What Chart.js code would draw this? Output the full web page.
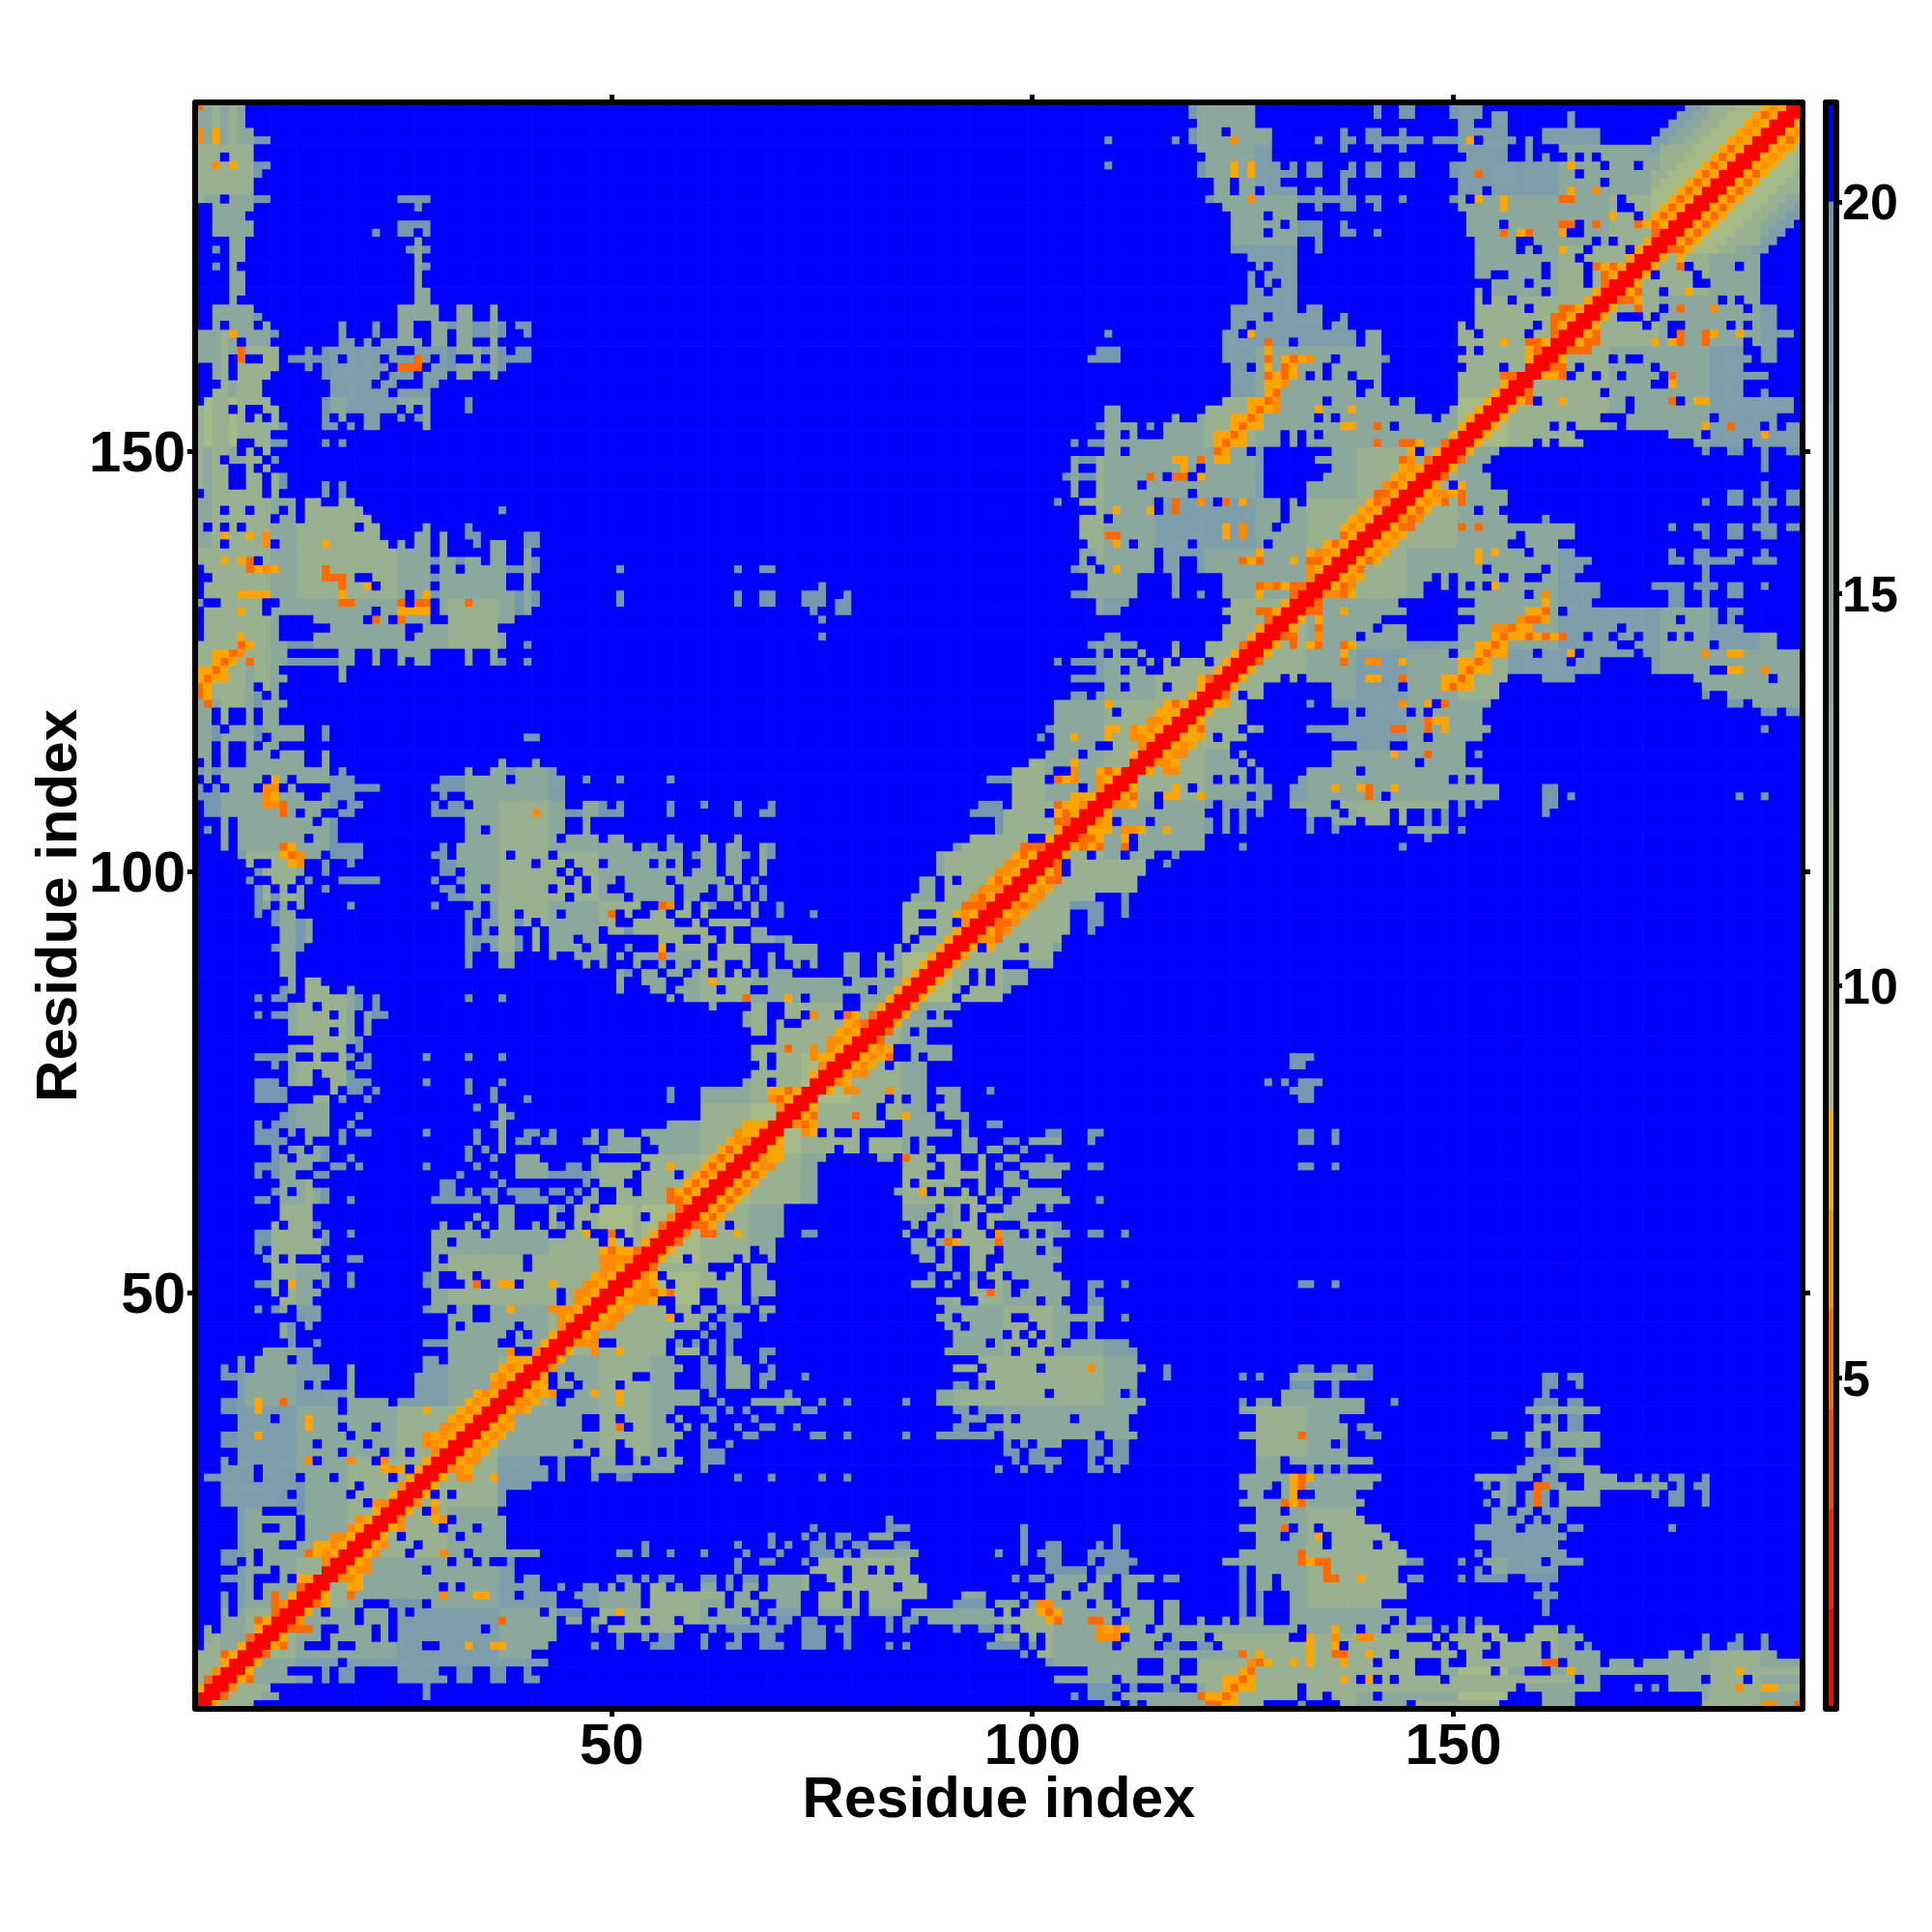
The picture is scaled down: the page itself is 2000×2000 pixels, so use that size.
<!DOCTYPE html>
<html>
<head>
<meta charset="utf-8">
<title>Residue contact map</title>
<script src="https://cdn.jsdelivr.net/npm/chart.js@4/dist/chart.umd.min.js"></script>
<style>
  html, body { margin: 0; padding: 0; background: #fff; }
  #wrap { position: relative; width: 2000px; height: 2000px; }
  #map { position: absolute; left: 0; top: 0; }
  #bar { position: absolute; left: 1860px; top: 0; }
</style>
</head>
<body>
<div id="wrap">
  <canvas id="map" width="2000" height="2000"></canvas>
  <canvas id="bar" width="140" height="2000"></canvas>
</div>
<script>
const residueCount = 191;
const axisTicks = [50, 100, 150];
const axisTitle = 'Residue index';
const colorbarTicks = [5, 10, 15, 20];

// colour key: band edges and one colour per band
const bandEdges = [0.78, 2.05, 3.33, 4.6, 5.88, 7.15, 8.43, 9.71, 11, 12.28, 13.57, 14.85, 16.14, 17.42, 18.71, 20, 21.27];
const bandColors = ['#ff0000', '#ff2400', '#ff4800', '#ff6a00', '#ff8c00', '#ffa500',
  '#a5ba86', '#9fb68b', '#99b190', '#93ad96', '#8ca89c', '#85a3a3', '#7d9eaa', '#7598b1', '#6c92b8', '#0000ff'];

// letters used in contactRows and the distance each one stands for
const levelCodes = ['z', 'e', 'd', 'f', 'c', 'b', 'a', 'y', 'O', 'o', 'x', 'r'];
const levelValues = [20.6, 19.3, 18, 16.8, 13.9, 11.5, 9, 7.8, 6.5, 5.2, 4, 1.5];

// upper half of the symmetric map, one row per residue.
// "12c" = from column 12 on the level is c, until the next entry
const contactRows = [
"1r3y4b8z109d111z112d113z114c121o123y125c128z132d133z137c145z146b156z161c165z180b187O189c191o",
"2r4o5b9c11z28d29z105d106z107d110z111c120o121y123o124y125b132z133c135z136c141z142c157z161c165z180c",
"2r5O6b10z28d29z107d111z112d113z116d118z120c123y124o125y127b132z133b158z159c168z172d173z174d175z176c184O185b187y189b",
"3r6y7o8c15z16d17z18d20z25c31z32d34z36d38z40d42z103c110z111c117z118b123y125o126y127b137y138b139z140y141z142b143z144b149z150b165z166c168z176c180z181b185z186c",
"4r7y8c12z16d17z18d20z25c30z32d34z36d38z40d41z107c113z116c118z120b125y126o127b146z149c155z156c159z162c164y165c184y185b",
"5r8y9c18z19c43z102c113z116c118z120b126O127o128y129b131y132b133y134b137y138b141z142b146z149c150z152b161o163z164c168z169c172z173c",
"6r9o10c41z99d100z101c125o126b127y128b133y134b136o138b140y141b143z144b151z152c154z156c161z162c168z176c178z179c189z",
"7r10y11o12c14z17c18z20c28z30c33y34c36y38c43z48d49z51d52z55d58z61d62z64d66z68d71z73d76z78d79z83d84z85d86z95d99z100d101z102c110z111c115z116d118z120d122z123b133y134b136y137z138b148z149c150z151c155z156c161z162c165z166d167z180d181z183d185z187d188z",
"8r11y12c16z17c22z23c24z25c44z51d52z54d55z56d58z61d62z65d66z68d70z73d76z78d79z96c99z100c101z102c108O111z112c116z117c121z122b131z133y134b136O137b139O141b145z148c149z150c154z155c157z159c166z180d181z184d185z187d188z",
"9r12o15c16z18c22z23c24z25c35z36c44z48d49z50c59z62d63z64d71z73d76z77d79z83d84z85d86z91d92z94d96z97d98z99c108O109y110O111y112c114z115c132z133c136y137c139z140c142z143c148z149d150z151d152z153c156z160c163z164d165z",
"10r13O14c20z21c24z25c37o38c44z45c47z48c50z52c54z55b58z59c67z68d69z70d72z73d75z78d79z83d84z85d87z88c102y103o104c107o109c110z111c115z116c118z120c121z123c124z125c128z131c143z144c145z146d148z151d152z153d154z",
"11r14y15c16z17c20z21c24z25c26z27c42z43c44d47z49c51y52c62z63c66z67c68z69c73z75c80z81c85z86c96z97c98z99c101y102o103y104c111z112c115z116c118z125d126z127d128z131c145z161d162z",
"12r15o16y17c21z24d28z29c44z47d48c54z55b58c64z65c68z70c73z75c78z79c80z81c85z91d95z96c99z100c101O103c107z108c110z111c115z116c118z125d126z127d128z131c142z161d162z",
"13r16y17c19o20c30O31c34y36c39z40c44z46c54z55b64z65c67z68c73z75c78z79c80z81c88z92c95z99d100z102c104z105c109z111c113z125d126z127d128z131c145z160d163z",
"14r17c19y21c30z31c32z33c42z44d45z47c49z50c51z52c54z55c57z58d59z61c63z64d65z66c68z69c74z77c84z85c88z102c106z107c109z111c113z125d126z127c129z130c145z161d162z",
"15r18O20y21c39z40c42z51d53z54d55z56d58z61d63z64d65z66d68z69c74z76c78z79c87z98d99z100d102z103c107z108c110z111c115z116d118z125d126z127c129z130c135o137c139y140c144z145d147z151d152z153d157z159d163z",
"16r19y20O22c28z29c39z65d66z74b78z79c81z82c83z84c86z102d107z108d112z125d126z127c135o136c144z153d154z155c163z",
"17r20y21O22c31z32c34z35c36z38d39z65d66z68d70z73d74z75b86z99d100z102d104z107d108z109d113z123c132o133y134o136b145d147z151d152z154c161z162c166z",
"18r21y22O23c26z27c30O31c33z34c42z51d53z54d55z57d58z61d62z66d67z70d71z74d77z78d79z80c87z96d97z99d100z101d104z107d112z125c132o133c145z153d154z155c164z",
"19r22y23O24c27z28c38z54d55z65d66z69d70z71d72z74d76z77d78z79d81z84d86z99d100z102d104z108d109z110d111z127c135z136c141z142c144z155c163z",
"20r23y24c25z26c32z33c38z69d70z73d74z75d76z77d79z81c84z99d100z110d111z127c130z131c134y135z136c143z153c164z",
"21r24y25O26c30z31c34z35c38z74d75z83d86z99d100z110d111z125c130o131z132c134z135c142z153c158z159c163z164d166z176d177z",
"22r25O26c29y30O31z32c38z83d84z127c140z155c159z160c161z162c164z",
"23r26y27c28z29O30c37z127c130z131c139z155c157z158c160z161c164z",
"24r27O28c29y30c38z125c130o131y132o133c140z154d155z156c158z159c160o161c162z163c168z176d178z180d181z",
"25r28y29z30c31z32c38z126c128z130c131y132z134c139z155c158z159c160o161c162z163c168z174d175z176d178z180d181z",
"26r29y30c41z125c129z130c131y132o133c141z154d155z156c158z160o162c164z166c176z177d178z179d181z",
"27r30y31c32O34c36y37c43z44d45z48d49z51d53z65d66z69d70z75d76z78d79z125c131y132o133y134c142z153c160z161c163z166c170z172d173z174d175z176d178z180d181z",
"28r31O33y34c43z44d45z48c58z61d62z96d97z99d100z102d103z107d109z110d111z127c130z133d134z135d136z137d138z158c161z162c168z",
"29r32y33O35c42z44d45z48c51z53c54z55c59z61d64z98d99z100d104z107d108z109d112z127c130z131c141z159c166z",
"30r33y34O35y36c48z49c51z53c56z57c58z61d64z97d99z100d102z107d109z110d112z127c138z160d163z165d166z",
"31r34y35O36y37c46z47c51z52c58z61d62z64d65z97d98z99d100z101c104z107d109z110d112z127c136z137d138z159c161z162c168z",
"32r35y36O37y38c59z61d63z66d68z74d76z78d79z85d86z89c96z97c108z109c113z125c132o133c138z140d142z155d157z159c161z162c168z",
"33r36y37O38y39c47z49c51o52z53c58z59c60z61d62z65d66z68d70z72d73z91d93z95d96c112z127c138z139d141z160c163z164d166z",
"34r37y38O39c47z49c51z52c57z58c59z62d63z67d68z92c95z97c98z99c105z106c112z127c137z160d161z162d163z164d166z",
"35r38y39O40y41c58z61d63z64d65z66d67z70d71z73d75z91c93z94c113z125c140z159c168z",
"36r39O41y42c44z45c51y52c61z63d64z67c73z75d76z78d79z85d86z89c114z125d126z127c129z130c140z143d144z160d163z164d166z",
"37r40y41O42y43O44z46c48y49c51y52c61z62d63z71d72z89c102z103c111z112d113z130c134z136d137z161d162z",
"38r41y43z44c46z47c51z52c58z61d63z64c67z68d69z91d93z94d95z96c113z131d134z136d137z161d163z165d166z",
"39r42y43z44c45z46c53z55c58z61d63z64c67z68d70z73d74z94c113z116d117z125d126z127d128z131c139d141z161d163z164d166z",
"40r43O44c59z61d63z64c67z69d70z91c94z95c101z102c107O108c114z116d117z132d134z136d138z139d141z",
"41r44y45c58z61d62z64c66z68d69z94c113z",
"42r45y46c48O49c51y52c57z58c61z62d63z64d65z68d70z90c98z99c102z103c113z",
"43r46O49z51c57z58d59z60d61z62d63z64d65z91c95z96c100z101c104z105c112z",
"44r47y48O49c58z61d62z64d66z91c97z98c99z100c101z102c105z107d108z",
"45r48y49O51c61z62d63z64d66z90c92z93c100z101c105z107d108z",
"46r49y50O52c57y58z59c62z63d65z68d69z89c91z92c98z100c109z111d112z",
"47r50y51O52y53c57z58c60z61c63z64c67z68c70z90c105z107c109z",
"48r51y52O55y56z58c61z63c66z67d68z89c92z94c101z102c104z107d109z",
"49r52y53O55o56y57o58c61z63c66z67c70z93c95o96c98z99c105z107d108z",
"50r53y54O55y56c57z58c63z63c66z67c70z86c89z90c91z93c94z96c98z100c105z107d109z111d112z132d134z136d137z",
"51r54O55y56z57c63z64c66z67c69z88d89z91d92z93d94z95c97z98c104z",
"52r55o56b62z65c66z67c69z89c91z93c95z96c103z",
"53r56y57c59z60c65z66c67z69c70z87c89z90c91z93c95z97c104z",
"54r57y58c67z68c70z86c89z90c91z93b96z97c101z102c104z",
"55r58o59c70z86c88z89c90o91y92b96o97c103z",
"56r59O60c61o63c65y66c71z73d75z85c86z88c89z90c91z92c95z96O97c99z100c101z102c105z107d109z111d112z",
"57r60o62y63c64z65c71z86c87z88c94z95c96z99c104z",
"58r61y62o63y64c71z85c88z89c92z93c94z95c100z",
"59r62y63o64y65c71z85c89z90c92z93c95z97c101z102d103z",
"60r63y64o65y66c75z85c94z95c97z98c105z108d109z",
"61r64y65o66y67c75z84c87y88z89c90z92c93z94c95z96d97z99c104z",
"62r65y66o67y68c75z85c86z87c92z94c95z97c100z",
"63r66y67o68y69c75z85c88z90c95z97c99z100c104z",
"64r67y68O70c75z85c89z90c92z94c95z96d97z99c105z107d109z132d134z136d137z",
"65r68O69y71c76z82c84z85o86c88z89c92z94c95z97c99z102d103z",
"66r69y71c77z78c80z81c86z87c89z92c94z95c97z99d100z",
"67r70y71c80z81c86z87c88z92c94z97d99z100c104z107d108z132d134z136d137z",
"68r71c73O74y75z76c77z79c80z85c91z92c93z102d104z107d109z132d134z136d137z",
"69r72O73o74y75c83z85c89z92d93z95d97z",
"70r73y74o75c79o80c82z83c85y86c89z90c93z",
"71r74y75c82z83c88z89c92z",
"72r75c83z84c85z86c88z90c92z132d134z",
"73r76y77c78O80c83O84c88z89c92z95d96z131d134z",
"74r77O78y79c88z128d129z130d131z132d135z",
"75r78y79O81c88z",
"76r79y80O81y82c83z84c88z131d133z",
"77r80y81O82y83o84z86c87z88c91z131d134z",
"78r81y82O83y84z86c91z",
"79r82o83c88z",
"80r83o84c86z87c88z",
"81r84y85c91z",
"82r85y86c88z89c90z",
"83r86y87c92z",
"84r87y88c91z92c97z",
"85r88y89c92z93c98z",
"86r89y90c93z94c95z96c100z",
"87r90y91c93z94c95z96c100z",
"88r91y92c97z100c103z",
"89r92y93b103z",
"90r93y94z95y96b99z100c104z",
"91r94O96o97b104z",
"92r95y96o97O98b105z107d108z",
"93r96o98O99b105z107d109z",
"94r97y98O99y100b105z107d109z111d112z",
"95r98O99o100O101b105d107d109z111d112z",
"96r99y100O102b108z111d112z",
"97r100y101O102y103b113z",
"98r101y102o104b113z",
"99r102y103o104z105b114z",
"100r103o104z105b114z116d117z",
"101r104y105b107z108c111z112c115z117d118z",
"102r105y106o107y108o109c111o112z113c121z125d126z144d145z",
"103r106o108y109c111y112z113c121z147d148z",
"104r107y110c111O113y114c116y117c122z123c124z125d126z133d134z136d137z145c150z151d152z",
"105r108O109y110z111c114z115c122z123c124z125d126z133d134z136c139z140c143z144c145z147d148z149d150z",
"106r109y110c121z123c124z125d126z127d128z133c137z138c143z144c145z147d148z149d150z151d152z161d162z",
"107r110O112y113c115z116c122z123c128z131c136z137b150z151d152z153d154z161d163z",
"108r111y112o113c115z116y118c120y121c126z127c129z131c140o141c142z143c156z161d163z164d165z184d185z187d188z",
"109r112y113c117y118c119z120c129z131c136y137c139y140o141c143y144c156z161d163z",
"110r113c122z123c124z125c126z127c128z132c150z151c152z153c154z",
"111r114y115c116O118c126z127c128z133c139z140c154z",
"112r115O117y118c125z126c127z136c146z147c152z",
"113r116y117O119c124z125c126z136c143y144c147o148c152z153d154z",
"114r117y118O119y120c124z139c143z145c152z",
"115r118y121c122z123c126z136c147z148c154z",
"116r119y120o121c125z126c128z133c143o145c147o148c149y150c155z187d188z",
"117r120y121c126z138c147o148y150c154z",
"118r121y122c126z138c139z140c145z146c147z148c154z187d189z190d",
"119r122y124c126z133d134z136c144O145c147y148z149o150c155z183d185z186c",
"120r123o124c125z126c128z136c156z180d181z183c",
"121r124y125c128z136c144z145c149y150o151y153c156z180c",
"122r125y126c130z131c132z133c140y142c144o145c149y151o152y153c157z161c165z179c188z189c",
"123r126y127c151y152o153y155c168z174c181z183y185c187O188c",
"124r127o128c137o138c140O142c144y145c151y153o154y155c164z165c168z174c",
"125r128y129c137y138c150z151c153y154o155y157c160z161c164y165z166c172z173c180O181c183y185c",
"126r129y130c131o132c133y134o135c137o138y139c153y155o156y157c170z172c181z182c189z",
"127r130o132c134O135c139z140c145z151c155y156o157y159o160y161o162y163o164c166z167c169z170c172z173c176z177c178z179c189z",
"128r131y132c134o135c141z142c145z151c155O157o158y160c170z171c185z",
"129r132y133c134y135c142z153c158O159o161y162c177z178c182z183d184z",
"130r133o135c137y138c145z151c159y161o162c163z164c182z183d185z",
"131r134o135c144z153c161y162c167z176d178z180d181z",
"132r135O137o138y139c147z151c159z160c161O162c168z176d178z180d181z183d185z",
"133r136y137o138O139c147z149c150z151c152z153c154z155y156c168z174d178z179d182z183d185z187d188z",
"134r137y138O139y140c148z149c150z151c156z157c159z161c165z180d181z",
"135r138y139o140c154z155c161z162c166z180d181z",
"136r139y140o141y142c153y154c167z176d178z179d184z186d189z",
"137r140y141O142y143c153y154c155y156c159z160c165z176d177z179d181z183d185z187d188z",
"138r141y142O143y144c157z159c163z",
"139r142y143O144y145c158z159c165z180d181z183d185z187d189z",
"140r143y144o146c151o152c153o154c165z176d177z179d181z183d185z186d189z190d",
"141r144O145o146O147c157z161d162z187d188z",
"142r145y146o147y148c153z154c156z187d188z",
"143r146y147O148y149o150c151o152c157z180d181z183d185z186d189z190d",
"144r147y148O150y151o152c157z183d185z187d188z190d",
"145r148y149c150z151y152c155z187d188z",
"146r149o150c155z",
"147r150y151c154z187d188z",
"148r151o152c155z187d188z",
"149r152y153c156z180d181z183d185z187d188z190d",
"150r153y154c160z161c162z163c166z179c185z186c",
"151r154y155c165z176c180z181c187y188c",
"152r155y156c162z163c164z165c170z171c180y181c183o184c187z188c189z190c",
"153r156y157c168z171c181z182c189z",
"154r157y158c171z172c191z",
"155r158y159o160z161c163y164c171z172c176o177z178c179y181c191z",
"156r159o160c168z169c185z187d188z",
"157r160c174z176y177c185z",
"158r161y163o164z165c167z168c170z171c175z176o177c188z",
"159r162o164c165z166c174z175c185z",
"160r163y164c169z170c171z173c186z187c189z",
"161r164o167c185z187c189z",
"162r165y166o168c174y175c176y177o178c180o181c185z186c189z",
"163r166y167o168c176z177o178c180o181y182c184y185c191z",
"164r167y168c173z174c176z178c183z184c185z186c189z",
"165r168y169c170z173c174z175c189z",
"166r169y170c172o173c175z176c177o178c181O182c185z186c189z",
"167r170o172y173c182z183c184z185c187z",
"168r171y172o173c175z176c178y179c187z",
"169r172y173c179z181c187z",
"170r173y174z175c179z180c187z",
"171r174y175c177o178z179c184z185c187z",
"172r175y176c177y178c187z",
"173r176o178y179a182b184c186f188z",
"174r177y178o179y180a183b185c187f189z",
"175r178y179o180y181a184b186c188f190z",
"176r179y180o181y182a185b187c189f191z",
"177r180y181o182y183a186b188c190f",
"178r181y182o183y184a187b189c191f",
"179r182y183o184y185a188b190c",
"180r183y184o185y186a189b191c",
"181r184y185o186y187a190b",
"182r185y186o187y188a191b",
"183r186y187O188y189a",
"184r187y188O189y190a",
"185r188y189O190y191a",
"186r189y190o191y",
"187r190y191O",
"188r191y",
"189r",
"190r",
"190r"
];

// shade of the mid-grey contacts, read per block of 6 x 6 residues (upper half)
const toneBlocks = [
"bcffffffcbccccccfcccbbbccaccccbc",
".bccffccbbcfccccbcccccccbbbcccbc",
"..bcccffcbccbbbcccccccbbccffcccc",
"...bbccfccccccccccccccbbbffffcccc",
"....bbfccccccccccccfccccfcfcccc",
".....bccbcccccffcccccbcccfcccccc",
"......bcbccccccbbbcccccccccccccc",
".......bbbccccccbcfccccccccccccc",
"........aabccccbcccccccccccccccc",
"........ .abccccbcfcccccccccccccc",
"..........abccbbcccccccccccccccc",
"...........abbcccccccccccccccccc",
"............abcccccccccccccccccc",
".............bcccccccccccccccccc",
"..............abcfcccccccccccccc",
"...............abfcccccccccccccc",
"................bbcfcccccccccccc",
".................bccfccbcccccccc",
"..................bbcfcccccccccc",
"...................bbcffcccccccc",
"....................bbcfcbfffccc",
".....................bccfccffcfc",
"......................abcccfcccc",
".......................bbccccccc",
"........................bcfccccc",
".........................abbccff",
"..........................bbccff",
"...........................bbccf",
"............................bbcf",
".............................bbc",
"..............................ab",
"...............................a"
].map(row => row.replace(/ /g, ''));

// spell a row out into one level letter per column
function expandRow(rowText) {
    const cells = new Array(residueCount + 1).fill('z');
    const entries = [...rowText.matchAll(/(\d+)([a-zA-Z])/g)];
    entries.forEach((entry, i) => {
        const from = Number(entry[1]);
        const to = i + 1 < entries.length ? Number(entries[i + 1][1]) : residueCount + 1;
        for (let c = from; c < to; c++) cells[c] = entry[2];
    });
    return cells;
}

function shadeOf(code, r, c) {
    if (code !== 'c') return code;
    const block = toneBlocks[Math.floor((r - 1) / 6)][Math.floor((c - 1) / 6)];
    return block && block !== '.' ? block : code;
}

const pointsByLevel = {};
levelCodes.forEach(code => { pointsByLevel[code] = []; });
contactRows.forEach((rowText, i) => {
    const r = i + 1;
    const cells = expandRow(rowText);
    for (let c = r; c <= residueCount; c++) {
        const code = shadeOf(cells[c], r, c);
        pointsByLevel[code].push({ x: c, y: r });
        if (c !== r) pointsByLevel[code].push({ x: r, y: c });
    }
});

function colorForValue(value) {
    for (let i = 0; i < bandColors.length; i++) {
        if (value < bandEdges[i + 1]) return bandColors[i];
    }
    return bandColors[bandColors.length - 1];
}

const boldFont = size => ({ family: '"Liberation Sans", Arial, sans-serif', size: size, weight: 'bold' });

const frame = {
    id: 'frame',
    afterDatasetsDraw(chart) {
        const { ctx, chartArea: a } = chart;
        ctx.save();
        ctx.strokeStyle = '#000';
        ctx.lineWidth = 6;
        ctx.lineJoin = 'round';
        ctx.strokeRect(a.left, a.top, a.right - a.left, a.bottom - a.top);
        ctx.restore();
    }
};

const setTicks = values => scale => { scale.ticks = values.map(v => ({ value: v })); };
const tickGrid = { drawOnChartArea: false, drawTicks: true, tickLength: 8, tickWidth: 5, tickColor: '#000', color: '#000' };

function cellRadius(ctx) {
    const sx = ctx.chart.scales.x;
    return (sx.getPixelForValue(1) - sx.getPixelForValue(0)) * 0.76;
}

new Chart(document.getElementById('map'), {
    type: 'scatter',
    data: {
        datasets: levelCodes.map((code, i) => ({
            label: code,
            data: pointsByLevel[code],
            pointStyle: 'rect',
            pointRadius: cellRadius,
            pointBorderWidth: 0,
            backgroundColor: colorForValue(levelValues[i]),
            clip: 0
        }))
    },
    options: {
        responsive: false,
        animation: false,
        events: [],
        layout: { padding: 0 },
        plugins: { legend: { display: false }, tooltip: { enabled: false } },
        scales: {
            x: {
                type: 'linear', position: 'bottom', min: 0.5, max: residueCount + 0.5,
                afterBuildTicks: setTicks(axisTicks),
                afterFit: s => { s.height = 231; },
                grid: tickGrid, border: { display: false },
                ticks: { color: '#000', font: boldFont(60), padding: -4, maxRotation: 0, autoSkip: false },
                title: { display: true, text: axisTitle, color: '#000', font: boldFont(60), padding: { top: 0, bottom: 100 } }
            },
            y: {
                type: 'linear', position: 'left', min: 0.5, max: residueCount + 0.5,
                afterBuildTicks: setTicks(axisTicks),
                afterFit: s => { s.width = 202; },
                grid: tickGrid, border: { display: false },
                ticks: { color: '#000', font: boldFont(60), padding: 2, labelOffset: 4, autoSkip: false },
                title: { display: true, text: axisTitle, color: '#000', font: boldFont(60), padding: { top: 26, bottom: 0 } }
            },
            xTop: {
                type: 'linear', position: 'top', min: 0.5, max: residueCount + 0.5,
                afterBuildTicks: setTicks(axisTicks),
                afterFit: s => { s.height = 106; },
                grid: tickGrid, border: { display: false }, ticks: { display: false }
            },
            yRight: {
                type: 'linear', position: 'right', min: 0.5, max: residueCount + 0.5,
                afterBuildTicks: setTicks(axisTicks),
                afterFit: s => { s.width = 134; },
                grid: tickGrid, border: { display: false }, ticks: { display: false }
            }
        }
    },
    plugins: [frame]
});

new Chart(document.getElementById('bar'), {
    type: 'bar',
    data: {
        labels: ['key'],
        datasets: bandColors.map((color, i) => ({
            data: [[bandEdges[i], bandEdges[i + 1]]],
            backgroundColor: color,
            barPercentage: 1,
            categoryPercentage: 1
        }))
    },
    options: {
        responsive: false,
        animation: false,
        events: [],
        layout: { padding: { left: 30, top: 106, bottom: 231 } },
        plugins: { legend: { display: false }, tooltip: { enabled: false } },
        scales: {
            x: { stacked: true, display: false },
            y: {
                position: 'right', min: bandEdges[0], max: bandEdges[bandEdges.length - 1],
                afterBuildTicks: setTicks(colorbarTicks),
                afterFit: s => { s.width = 99; },
                grid: { drawOnChartArea: false, drawTicks: true, tickLength: 6, tickWidth: 5, tickColor: '#000' },
                border: { display: false },
                ticks: { color: '#000', font: boldFont(52), padding: 0, labelOffset: 4, autoSkip: false }
            }
        }
    },
    plugins: [frame]
});
</script>
</body>
</html>
